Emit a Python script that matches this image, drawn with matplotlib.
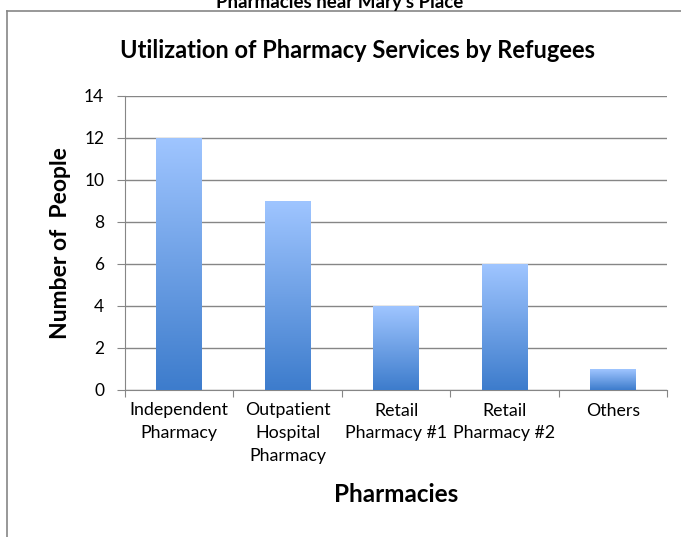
import numpy as np
import matplotlib
matplotlib.use("Agg")
import matplotlib.pyplot as plt
from matplotlib.lines import Line2D

plt.rcParams['font.family'] = ['Lato', 'DejaVu Sans']

categories = ["Independent\nPharmacy", "Outpatient\nHospital\nPharmacy",
              "Retail\nPharmacy #1", "Retail\nPharmacy #2", "Others"]
people = [12, 9, 4, 6, 1]
y_ticks = [0, 2, 4, 6, 8, 10, 12, 14]

fig = plt.figure(figsize=(6.81, 5.37), dpi=100)
ax = fig.add_axes([125 / 681, 1 - 390 / 537, (667 - 125) / 681, (390 - 96) / 537])

# gradient bars (light on top, darker at the bottom)
grad = np.linspace(0, 1, 256).reshape(-1, 1)
cmap = matplotlib.colors.LinearSegmentedColormap.from_list("bar", ["#3d7ccc", "#9fc5ff"])
x = np.arange(len(categories))
width = 0.42
bars = ax.bar(x, people, width=width, color="none", zorder=3)
for b, v in zip(bars, people):
    x0 = b.get_x()
    ax.imshow(grad, extent=[x0, x0 + width, 0, v], origin="lower", cmap=cmap,
              aspect="auto", zorder=3, vmin=0, vmax=1)

ax.set_xlim(-0.5, len(categories) - 0.5)
ax.set_ylim(0, 14)
ax.set_yticks(y_ticks)
ax.yaxis.grid(True, color="#868686", linewidth=1.0)
ax.set_axisbelow(True)

# x ticks between categories, labels at centers
ax.set_xticks(np.arange(len(categories) + 1) - 0.5)
ax.set_xticklabels([])
ax.set_xticks(x, minor=True)
ax.set_xticklabels(categories, minor=True, fontsize=12.8, linespacing=1.5)
ax.tick_params(axis="x", which="minor", length=0, pad=9)
ax.tick_params(axis="x", which="major", length=5, color="#868686", direction="out")
ax.tick_params(axis="y", length=6, color="#868686", labelsize=12.5, pad=9)

for s in ["top", "right"]:
    ax.spines[s].set_visible(False)
for s in ["left", "bottom"]:
    ax.spines[s].set_color("#868686")

ax.set_ylabel("Number of  People", fontsize=16.5, fontweight="bold", va="center")
ax.yaxis.set_label_coords((60 - 125) / 542, 0.5)
ax.set_xlabel("Pharmacies", fontsize=17.5, fontweight="bold", va="center")
ax.xaxis.set_label_coords(0.5, (390 - 495) / 294)

fig.text(358 / 681, 1 - 50 / 537, "Utilization of Pharmacy Services by Refugees",
         ha="center", va="center", fontsize=17, fontweight="bold")
# chart title of the page above, cut off at the top edge
fig.text(340 / 681, 1 - 8 / 537, "Pharmacies near Mary's Place",
         ha="center", va="baseline", fontsize=13.5, fontweight="bold")

# outer frame (partially visible)
fig.add_artist(Line2D([7 / 681, 7 / 681], [0, 1 - 11 / 537], color="#868686", lw=1.2))
fig.add_artist(Line2D([7 / 681, 1], [1 - 11 / 537, 1 - 11 / 537], color="#868686", lw=1.2))

fig.savefig("out.png", dpi=100)
